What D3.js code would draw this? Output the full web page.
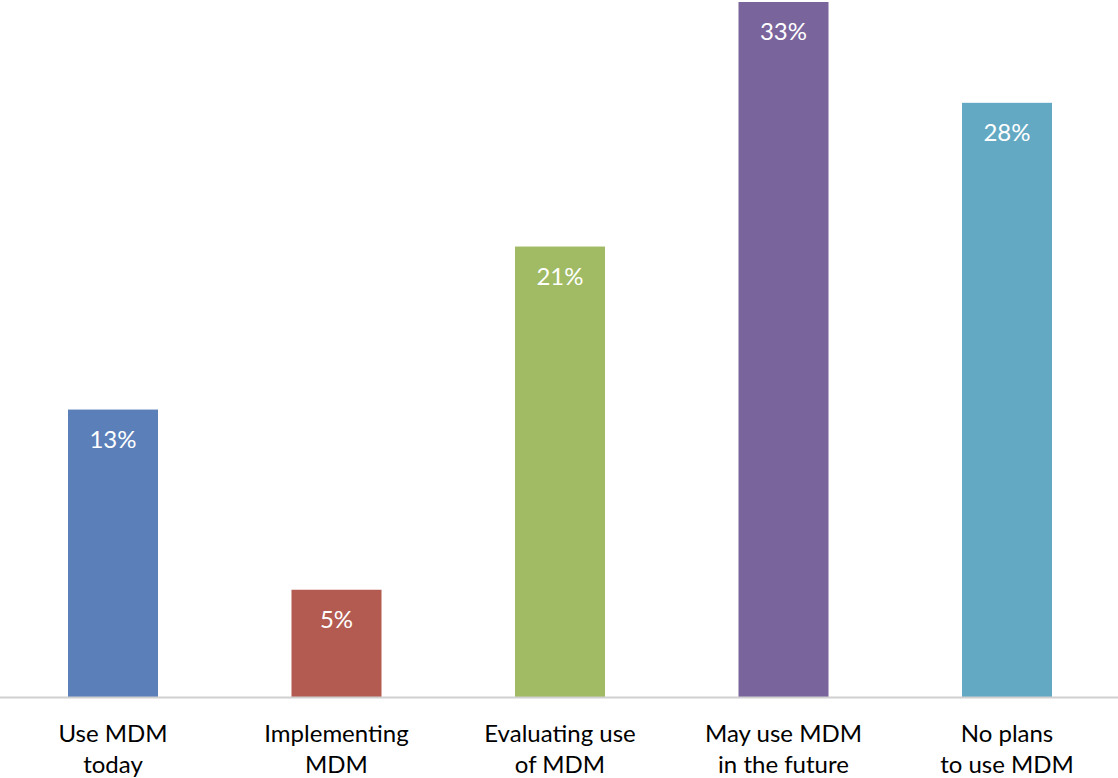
<!DOCTYPE html>
<html>
<head>
<meta charset="utf-8">
<script src="https://cdn.jsdelivr.net/npm/d3@7/dist/d3.min.js"></script>
<style>
  html, body { margin: 0; padding: 0; background: #ffffff; }
  svg { display: block; }
</style>
</head>
<body>
<svg id="chart" width="1118" height="778"></svg>
<script>
// MDM adoption survey: share of respondents per status
const categories = [
  ["Use MDM", "today"],
  ["Implementing", "MDM"],
  ["Evaluating use", "of MDM"],
  ["May use MDM", "in the future"],
  ["No plans", "to use MDM"]
];
const values = [13.4, 5.0, 21.0, 33.0, 27.7];
const colors = ["#5b7fb9", "#b35a51", "#a0bb63", "#7a649c", "#64a9c3"];
const yMax = 32.4;

const W = 1118, H = 778;
const baseY = 697, topY = 2;
const svg = d3.select("#chart");

const keys = categories.map((c, i) => i);
const x = d3.scaleBand().domain(keys).range([1.25, 1118.75]).paddingInner(0).paddingOuter(0);
const y = d3.scaleLinear().domain([0, yMax]).range([baseY, topY]).clamp(true);
const barW = x.bandwidth() * 0.4027;

// bars
svg.append("g").selectAll("rect")
  .data(values)
  .join("rect")
  .attr("x", (d, i) => x(i) + (x.bandwidth() - barW) / 2)
  .attr("y", d => y(d))
  .attr("width", barW)
  .attr("height", d => baseY - y(d))
  .attr("fill", (d, i) => colors[i]);

// value labels inside bar tops
svg.append("g").selectAll("text")
  .data(values)
  .join("text")
  .attr("x", (d, i) => x(i) + x.bandwidth() / 2)
  .attr("y", d => y(d) + 38)
  .attr("text-anchor", "middle")
  .attr("fill", "#ffffff")
  .style("font-family", "Lato, 'Open Sans', sans-serif")
  .style("font-size", "24px")
  .text(d => Math.round(d) + "%");

// category axis
const xAxis = svg.append("g").attr("transform", `translate(0,${baseY})`);
xAxis.append("line")
  .attr("x1", 0).attr("x2", W)
  .attr("y1", 0.5).attr("y2", 0.5)
  .attr("stroke", "#d0d0d0")
  .attr("stroke-width", 2);

const labels = xAxis.selectAll("text")
  .data(categories)
  .join("text")
  .attr("text-anchor", "middle")
  .attr("fill", "#000000")
  .style("font-family", "Lato, 'Open Sans', sans-serif")
  .style("font-size", "24px");
labels.each(function(lines, i) {
  const t = d3.select(this);
  lines.forEach((ln, j) => {
    t.append("tspan")
      .attr("x", x(i) + x.bandwidth() / 2)
      .attr("y", 45 + j * 31)
      .text(ln);
  });
});
</script>
</body>
</html>
